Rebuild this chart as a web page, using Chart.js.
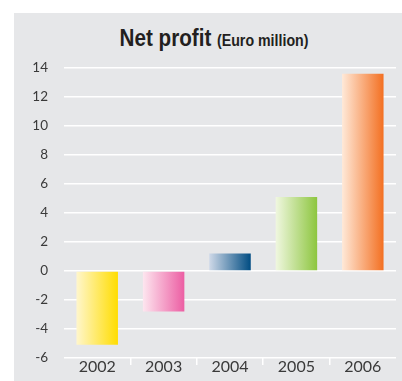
<!DOCTYPE html>
<html>
<head>
<meta charset="utf-8">
<script src="https://cdn.jsdelivr.net/npm/chart.js@4"></script>
<style>
html,body{margin:0;background:#fff;overflow:hidden;}
#painel{position:absolute;left:14px;top:13px;width:388px;height:368px;background:#e6e7e9;}
#titulo{position:absolute;left:0;top:23px;width:428px;text-align:center;
font-family:"Liberation Sans",Arial,sans-serif;font-weight:bold;color:#231f20;
font-size:24px;line-height:30px;white-space:nowrap;transform:scaleX(0.86);transform-origin:214px 0;}
#titulo small{font-size:16.5px;}
#grafico{position:absolute;left:0;top:0;}
</style>
</head>
<body>
<div id="painel"></div>
<div id="titulo">Net profit <small>(Euro million)</small></div>
<canvas id="grafico" width="402" height="382"></canvas>
<script>
// lucro liquido por ano
const anos=["2002","2003","2004","2005","2006"];
const lucro=[-5.1,-2.8,1.2,5.1,13.6];

// cor clara -> cor forte, da esquerda para a direita
const corClara=["#fff6cc","#fde6ef","#cfd9e8","#f0f7e0","#ffe9d8"];
const corForte=["#ffdd00","#ec5ea3","#004c82","#8dc63f","#f37022"];

function degrade(c){
const chart=c.chart;
const xs=chart.scales.x;
const i=c.dataIndex;
if(!xs||i===undefined) return corForte[0];
const meio=xs.getPixelForValue(i);
const meia=xs.width/anos.length*0.625/2;
if(!isFinite(meio)||!isFinite(meia)) return corForte[i];
const g=chart.ctx.createLinearGradient(meio-meia,0,meio+meia,0);
g.addColorStop(0,corClara[i]);
g.addColorStop(1,corForte[i]);
return g;
}

new Chart(document.getElementById("grafico"),{
type:"bar",
data:{labels:anos,datasets:[{data:lucro,backgroundColor:degrade,borderWidth:0,
barPercentage:0.625,categoryPercentage:1}]},
options:{
responsive:false,
animation:false,
layout:{padding:{top:68,right:6,left:0,bottom:0}},
plugins:{legend:{display:false},tooltip:{enabled:false}},
scales:{
x:{
border:{display:false},
grid:{offset:true,drawOnChartArea:false,tickLength:7,lineWidth:1.5,
color:c=>c.index>0?"#ffffff":"rgba(0,0,0,0)"},
ticks:{padding:-8,color:"#3a3a3a",font:{family:"Lato",size:16}},
afterFit:s=>{s.height=17;}
},
y:{
min:-6,max:14,
border:{display:false},
grid:{color:"#ffffff",lineWidth:1.5,drawTicks:false},
ticks:{stepSize:2,padding:16,color:"#3a3a3a",font:{family:"Lato",size:13.5}},
afterFit:s=>{s.width=64;}
}
}
}
});
</script>
</body>
</html>
